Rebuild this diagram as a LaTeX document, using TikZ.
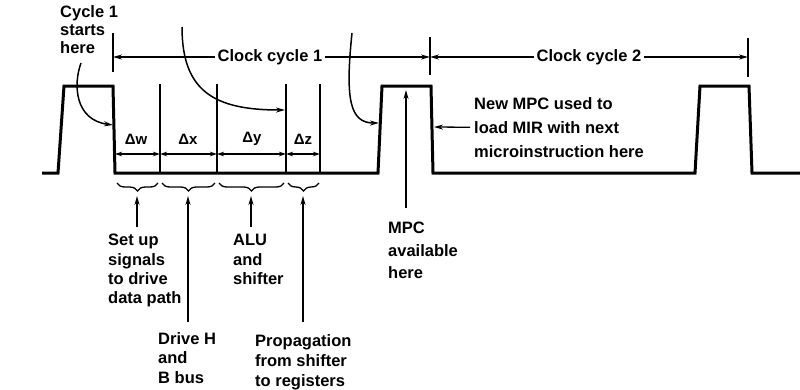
\documentclass[tikz,border=0pt]{standalone}
\usepackage{fontspec}
\setmainfont{Liberation Sans}
\usetikzlibrary{arrows.meta,decorations.pathreplacing}
\begin{document}
\begin{tikzpicture}[x=1pt,y=-1pt,
  wave/.style={line width=3pt,line join=miter},
  thinline/.style={line width=1.2pt},
  onearrow/.style={line width=1.3pt,-{Stealth[length=9pt,width=5pt]}},
  curvearrow/.style={line width=1.5pt,-{Stealth[length=9pt,width=5pt]}},
  dimarrow/.style={line width=1.2pt,{Stealth[length=7pt,width=4.5pt]}-{Stealth[length=7pt,width=4.5pt]}},
  bracestyle/.style={line width=1.3pt,decorate,decoration={brace,mirror,amplitude=8pt}},
  lbl/.style={font=\bfseries\fontsize{16.5}{19.5}\selectfont,inner sep=0pt,align=left,anchor=north west},
  dlbl/.style={font=\bfseries\fontsize{15}{18}\selectfont,inner sep=0pt,anchor=center}]
\useasboundingbox (0,0) rectangle (800,389);

% waveform
\draw[wave] (42,173) -- (58,173) -- (64,86) -- (113,86) -- (115,173) -- (378,173)
  -- (382,86) -- (431,86) -- (433,173) -- (695,173) -- (700,86) -- (749,86)
  -- (752,173) -- (800,173);

% cycle ticks
\draw[thinline] (113,33) -- (113,72);
\draw[thinline] (430,37) -- (430,75);
\draw[thinline] (748,38) -- (748,77);
\coordinate (t1) at (113,57);
\coordinate (t2) at (430,57);
\coordinate (t3) at (748,57);

\node[lbl,anchor=center] (cc1) at (270,57) {Clock cycle 1};
\node[lbl,anchor=center] (cc2) at (589,57) {Clock cycle 2};
\draw[onearrow] ([xshift=-3pt]cc1.west) -- (t1);
\draw[onearrow] ([xshift=3pt]cc1.east) -- (t2);
\draw[onearrow] ([xshift=-3pt]cc2.west) -- (t2);
\draw[onearrow] ([xshift=3pt]cc2.east) -- (t3);

% sub-interval lines
\draw[thinline] (160,84) -- (160,173);
\draw[thinline] (217,84) -- (217,173);
\draw[thinline] (286,84) -- (286,173);
\draw[thinline] (320,84) -- (320,173);

% dimension arrows
\draw[dimarrow] (115,154) -- (160,154);
\draw[dimarrow] (160,154) -- (217,154);
\draw[dimarrow] (217,154) -- (286,154);
\draw[dimarrow] (286,154) -- (320,154);
\node[dlbl] (dw) at (136,139) {Δw};
\node[dlbl] (dx) at (188,139) {Δx};
\node[dlbl] (dy) at (252,139) {Δy};
\node[dlbl] (dz) at (303,139) {Δz};

% braces
\draw[bracestyle] (117,183) -- (158,183);
\draw[bracestyle] (162,183) -- (215,183);
\draw[bracestyle] (219,183) -- (284,183);
\draw[bracestyle] (288,183) -- (319,183);
\coordinate (b1) at (137,196);
\coordinate (b2) at (188,196);
\coordinate (b3) at (251,196);
\coordinate (b4) at (303,196);

% bottom labels
\node[lbl,font=\bfseries\fontsize{16.5}{19.3}\selectfont] (setup) at (108,234) {Set up\\signals\\to drive\\data path};
\node[lbl] (alu) at (233,234) {ALU\\and\\shifter};
\node[lbl] (drive) at (158,332) {Drive H\\and\\B bus};
\node[lbl,font=\bfseries\fontsize{16.5}{20}\selectfont] (prop) at (255,334) {Propagation\\from shifter\\to registers};
\coordinate (a1) at (137,227);
\coordinate (a2) at (188,322);
\coordinate (a3) at (251,227);
\coordinate (a4) at (303,322);
\draw[onearrow] (a1) -- (b1);
\draw[onearrow] (a2) -- (b2);
\draw[onearrow] (a3) -- (b3);
\draw[onearrow] (a4) -- (b4);

% MPC available
\node[lbl,font=\bfseries\fontsize{16.5}{22.5}\selectfont] (mpc) at (388,222) {MPC\\available\\here};
\coordinate (m0) at (406,208);
\coordinate (m1) at (406,90);
\draw[onearrow] (m0) -- (m1);

% New MPC
\node[lbl,font=\bfseries\fontsize{16.5}{24}\selectfont] (newmpc) at (474,97) {New MPC used to\\load MIR with next\\microinstruction here};
\coordinate (n1) at (434,127);
\draw[onearrow] ([xshift=-4pt]newmpc.west) -- (n1);

% cycle 1 starts here
\node[lbl,font=\bfseries\fontsize{16.5}{18}\selectfont] (start) at (60,5) {Cycle 1\\starts\\here};
\coordinate (s0) at (81,63);
\coordinate (s1) at (113,125);
\draw[curvearrow] (s0) .. controls (73,85) and (75,120) .. (s1);

% long curved arrows
\coordinate (c0) at (182,27);
\coordinate (c1) at (285,110);
\draw[curvearrow] (c0) .. controls (182,92) and (215,110) .. (c1);
\coordinate (d0) at (352,33);
\coordinate (d1) at (379,123);
\draw[curvearrow] (d0) .. controls (345,100) and (350,123) .. (d1);
\end{tikzpicture}
\end{document}
